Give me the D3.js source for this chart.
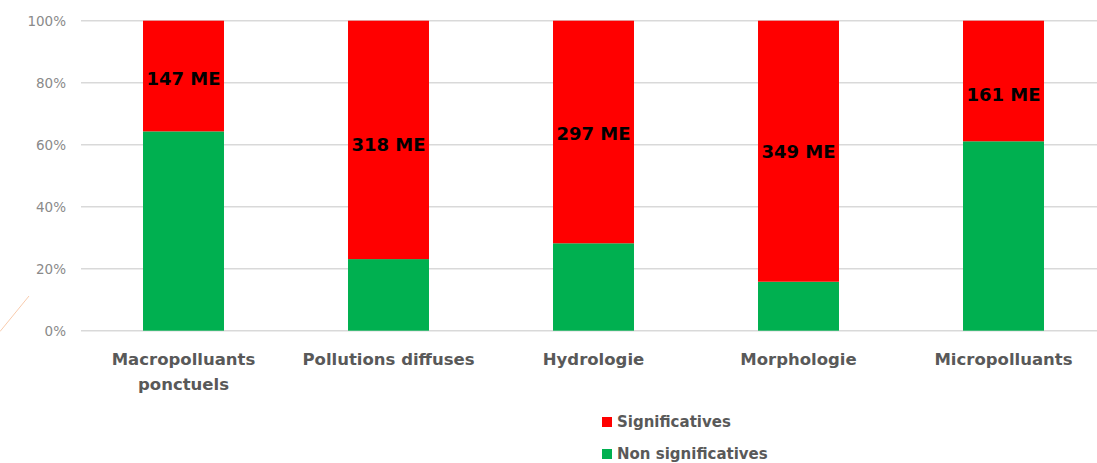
<!DOCTYPE html>
<html>
<head>
<meta charset="utf-8">
<script src="https://cdn.jsdelivr.net/npm/d3@7"></script>
<style>
  html, body { margin: 0; padding: 0; background: #ffffff; }
  svg { display: block; }
</style>
</head>
<body>
<svg id="chart" width="1097" height="463"></svg>
<script>
// Pressures on water bodies: share of significant vs non-significant pressures
const categories = [
  ["Macropolluants", "ponctuels"],
  ["Pollutions diffuses"],
  ["Hydrologie"],
  ["Morphologie"],
  ["Micropolluants"]
];
const nonSignificatives = [64.3, 23.1, 28.2, 15.8, 61.1];
const significatives = [35.7, 76.9, 71.8, 84.2, 38.9];
const valueLabels = ["147 ME", "318 ME", "297 ME", "349 ME", "161 ME"];
const valueLabelAt = [81.5, 59.9, 63.7, 57.7, 76.3];
const yTicks = [0, 20, 40, 60, 80, 100];
const seriesNames = ["Non significatives", "Significatives"];
const seriesColors = ["#00B050", "#FF0000"];

const svg = d3.select("#chart");

const rows = categories.map((c, i) => ({
  key: c.join(" "),
  lines: c,
  "Non significatives": nonSignificatives[i],
  "Significatives": significatives[i]
}));

const x = d3.scaleBand()
  .domain(rows.map(d => d.key))
  .range([81, 1106])
  .paddingInner(0.605)
  .paddingOuter(0.3025);

const y = d3.scaleLinear().domain([0, 100]).range([330.7, 20.7]);

const color = d3.scaleOrdinal().domain(seriesNames).range(seriesColors);

// decorative accent line at the left edge
svg.append("line")
  .attr("x1", 0).attr("y1", 331.5)
  .attr("x2", 29).attr("y2", 296)
  .attr("stroke", "#f8cbad").attr("stroke-width", 1);

// horizontal gridlines
svg.append("g")
  .selectAll("line")
  .data(yTicks)
  .join("line")
  .attr("x1", 81).attr("x2", 1106)
  .attr("y1", d => y(d)).attr("y2", d => y(d))
  .attr("stroke", "#d9d9d9").attr("stroke-width", 1.5);

// y axis labels
const yAxis = d3.axisLeft(y).tickValues(yTicks).tickFormat(d => d + "%").tickSize(0).tickPadding(0);
const ya = svg.append("g").attr("transform", "translate(66,0)").call(yAxis);
ya.select(".domain").remove();
ya.selectAll("text")
  .attr("font-family", "DejaVu Sans, sans-serif")
  .attr("font-size", 13.5)
  .attr("fill", "#8a8a8a")
  .attr("dy", "0.34em");

// stacked bars
const stacked = d3.stack().keys(seriesNames)(rows);
svg.append("g")
  .selectAll("g")
  .data(stacked)
  .join("g")
  .attr("fill", d => color(d.key))
  .selectAll("rect")
  .data(d => d)
  .join("rect")
  .attr("x", d => x(d.data.key))
  .attr("width", x.bandwidth())
  .attr("y", d => y(d[1]))
  .attr("height", d => y(d[0]) - y(d[1]));

// value labels inside the red segments
svg.append("g")
  .selectAll("text")
  .data(rows)
  .join("text")
  .attr("x", d => x(d.key) + x.bandwidth() / 2)
  .attr("y", (d, i) => y(valueLabelAt[i]))
  .attr("dy", "0.36em")
  .attr("text-anchor", "middle")
  .attr("font-family", "DejaVu Sans, sans-serif")
  .attr("font-weight", "bold")
  .attr("font-size", 18)
  .attr("fill", "#000000")
  .text((d, i) => valueLabels[i]);

// category labels
const cat = svg.append("g")
  .selectAll("text")
  .data(rows)
  .join("text")
  .attr("x", d => x(d.key) + x.bandwidth() / 2)
  .attr("y", 365)
  .attr("text-anchor", "middle")
  .attr("font-family", "DejaVu Sans, sans-serif")
  .attr("font-weight", "bold")
  .attr("font-size", 16.5)
  .attr("fill", "#595959");
cat.selectAll("tspan")
  .data(d => d.lines.map(l => ({ l, cx: x(d.key) + x.bandwidth() / 2 })))
  .join("tspan")
  .attr("x", d => d.cx)
  .attr("dy", (d, i) => i === 0 ? 0 : 25)
  .text(d => d.l);

// legend: Significatives above Non significatives
const legendOrder = ["Significatives", "Non significatives"];
const lg = svg.append("g")
  .selectAll("g")
  .data(legendOrder)
  .join("g")
  .attr("transform", (d, i) => `translate(602,${422 + i * 32})`);
lg.append("rect")
  .attr("x", 0).attr("y", -5)
  .attr("width", 10).attr("height", 10)
  .attr("fill", d => color(d));
lg.append("text")
  .attr("x", 15).attr("y", 0)
  .attr("dy", "0.36em")
  .attr("font-family", "DejaVu Sans, sans-serif")
  .attr("font-weight", "bold")
  .attr("font-size", 15)
  .attr("fill", "#595959")
  .text(d => d);
</script>
</body>
</html>
